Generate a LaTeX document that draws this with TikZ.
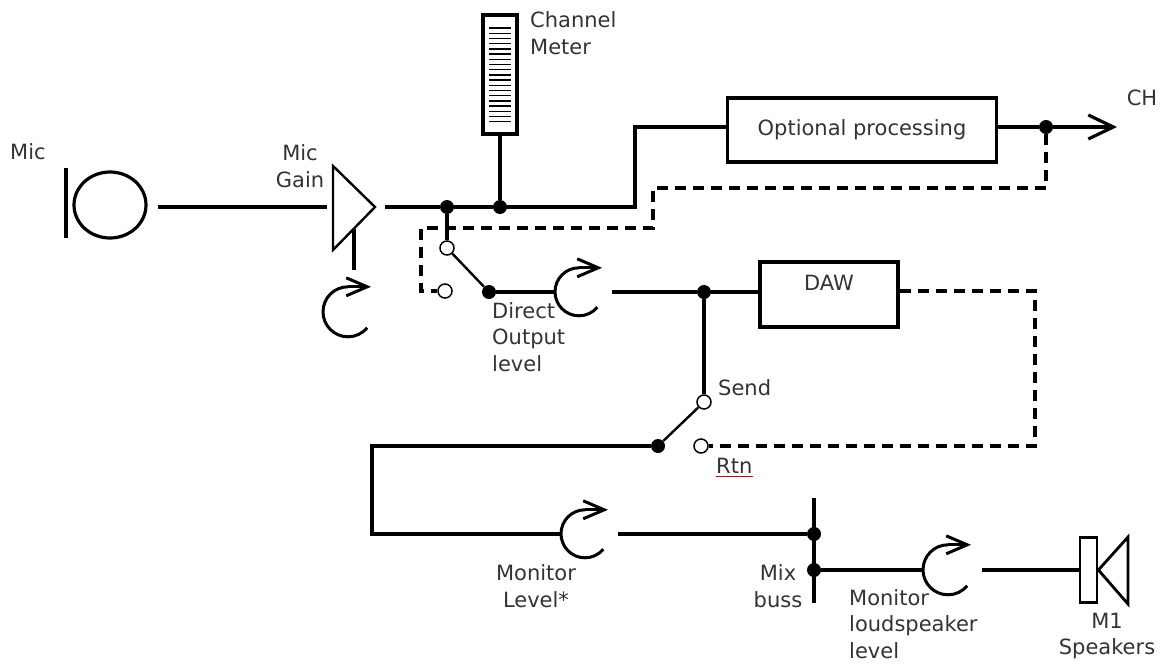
\documentclass[tikz,border=0pt]{standalone}
\usepackage{fontspec}
\setmainfont{DejaVu Sans}
\usetikzlibrary{arrows.meta,shapes.geometric}
\begin{document}
\begin{tikzpicture}[x=1pt,y=-1pt,
  wire/.style={line width=3.2pt},
  dline/.style={line width=3.2pt, dash pattern=on 11pt off 7pt},
  jdot/.style={circle, fill=black, minimum size=14pt, inner sep=0pt},
  odot/.style={circle, draw, fill=white, line width=1.5pt, minimum size=14pt, inner sep=0pt},
  knobn/.style={circle, minimum size=#1, inner sep=0pt},
  knobn/.default=48pt,
  lbl/.style={font=\fontsize{21}{26.5}\selectfont, text=black!80, inner sep=0pt},
  boxn/.style={draw, line width=3.2pt, inner sep=0pt},
  chev/.style={-{Straight Barb[length=21pt,width=18pt]}},
  kn/.style={line width=3pt},
]
\useasboundingbox (0,0) rectangle (1165,664);

% ---------- Mic and gain
\node[ellipse, draw, line width=3.2pt, minimum width=72pt, minimum height=66pt, inner sep=0pt] (mic) at (110,205) {};
\coordinate (mbt) at (66,168);
\coordinate (mbb) at (66,238);
\draw[wire] (mbt) -- (mbb);
\coordinate (micout) at (158,207);
\coordinate (ampin) at (327,207);
\draw[wire] (micout) -- (ampin);
\coordinate (atl) at (333,166);
\coordinate (atip) at (375,207);
\coordinate (abl) at (333,250);
\draw[line width=2.4pt, line join=miter] (atl) -- (atip) -- (abl) -- cycle;
\coordinate (stemt) at (354,229);
\coordinate (stemb) at (354,270);
\draw[wire] (stemt) -- (stemb);
\node[knobn=50pt] (k1) at (348,312) {};
\draw[kn] (k1.north) arc[start angle=90, end angle=320, radius=25pt];
\draw[kn, chev] (k1.north) -- ++(23,0);

\node[lbl, anchor=west] (lmic) at (10,152) {Mic};
\node[lbl, align=center] (lgain) at (300,166) {Mic\\Gain};

% ---------- main line
\coordinate (ampout) at (385,207);
\node[jdot] (j1) at (447,207) {};
\node[jdot] (j2) at (500,207) {};
\coordinate (bend1) at (635,207);
\coordinate (bend2) at (635,127);
\node[boxn, minimum width=269pt, minimum height=64pt, font=\fontsize{21}{26.5}\selectfont, text=black!80] (opt) at (862,130) {Optional processing};
\node[jdot] (j3) at (1046,127) {};
\coordinate (chout) at (1117,127);
\draw[wire] (ampout) -- (j1) -- (j2) -- (bend1) -- (bend2) -- (opt.west |- bend2);
\draw[wire] (opt.east |- bend2) -- (j3);
\draw[wire, -{Straight Barb[length=25pt,width=24pt]}] (j3) -- (chout);
\node[lbl] (lch) at (1142,98) {CH};

% ---------- meter
\node[boxn, minimum width=34pt, minimum height=119pt] (meter) at (500,74.5) {};
\foreach \i in {0,...,18}
  \draw[line width=1.4pt] (489,{28+5.2*\i}) -- (511,{28+5.2*\i});
\draw[wire] (meter.south) -- (j2);
\node[lbl, align=left, anchor=west] (lmeter) at (530,33) {Channel\\Meter};

% ---------- direct output switch
\node[odot] (o1) at (447,248) {};
\node[odot] (o2) at (445,291) {};
\node[jdot] (j4) at (489,292) {};
\draw[wire] (j1) -- (o1);
\draw[line width=2.4pt] (o1) -- (j4);
\coordinate (d1) at (1046,188);
\coordinate (d2) at (653,188);
\coordinate (d3) at (653,228);
\coordinate (d4) at (421,228);
\coordinate (d5) at (421,291);
\draw[dline] (j3) -- (d1) -- (d2) -- (d3) -- (d4) -- (d5) -- (o2.west);

\node[knobn] (k2) at (579,292) {};
\draw[kn] (k2.north) arc[start angle=90, end angle=320, radius=24pt];
\draw[kn, chev] (k2.north) -- ++(23,0);
\draw[wire] (j4) -- (k2.west);
\node[lbl, align=left, anchor=west] (ldirect) at (492,337) {Direct\\Output\\level};

% ---------- DAW
\node[jdot] (j5) at (704,292) {};
\node[boxn, minimum width=138pt, minimum height=65pt] (daw) at (829,294.5) {};
\node[lbl] (ldaw) at (829,283) {DAW};
\draw[wire] ([xshift=9pt]k2.east) -- (j5) -- (j5 -| daw.west);
\coordinate (r1) at (1035,291);
\coordinate (r2) at (1035,446);
\node[odot] (o3) at (704,402) {};
\node[odot] (o4) at (701,446) {};
\draw[dline] (daw.east |- r1) -- (r1) -- (r2) -- (o4.east);
\draw[wire] (j5) -- (o3);
\node[jdot] (j6) at (658,446) {};
\draw[line width=2.4pt] (j6) -- (o3);
\node[lbl, anchor=west] (lsend) at (718,388) {Send};
\node[lbl, anchor=west] (lrtn) at (716,466) {Rtn};
\draw[red!80!black, line width=1pt] ([yshift=-3pt]lrtn.south west) -- ([yshift=-3pt]lrtn.south east);

% ---------- monitor level
\coordinate (m1) at (372,446);
\coordinate (m2) at (372,534);
\node[knobn] (k3) at (585,534) {};
\draw[kn] (k3.north) arc[start angle=90, end angle=320, radius=24pt];
\draw[kn, chev] (k3.north) -- ++(23,0);
\draw[wire] (j6) -- (m1) -- (m2) -- (k3.west);
\node[lbl, align=center] (lmon) at (536,586) {Monitor\\Level*};

% ---------- mix buss
\coordinate (bt) at (814,498);
\coordinate (bb) at (814,603);
\draw[wire] (bt) -- (bb);
\node[jdot] (j7) at (814,534) {};
\node[jdot] (j8) at (814,570) {};
\draw[wire] ([xshift=9pt]k3.east) -- (j7);
\node[lbl, align=center] (lbuss) at (778,586) {Mix\\buss};

% ---------- monitor loudspeaker
\node[knobn=50pt] (k4) at (948,570) {};
\draw[kn] (k4.north) arc[start angle=90, end angle=320, radius=25pt];
\draw[kn, chev] (k4.north) -- ++(23,0);
\draw[wire] (j8) -- (k4.west);
\node[boxn, line width=2.8pt, minimum width=17pt, minimum height=65pt] (spk) at (1088.5,570) {};
\coordinate (ct) at (1128,537);
\coordinate (cb) at (1128,604);
\draw[line width=2.8pt, line join=miter] (spk.east) -- (ct) -- (cb) -- cycle;
\draw[wire] ([xshift=9pt]k4.east) -- (spk.west);
\node[lbl, align=left, anchor=west] (lmls) at (849,624) {Monitor\\loudspeaker\\level};
\node[lbl, align=center] (lspk) at (1107,636) {M1\\Speakers};
\end{tikzpicture}
\end{document}
